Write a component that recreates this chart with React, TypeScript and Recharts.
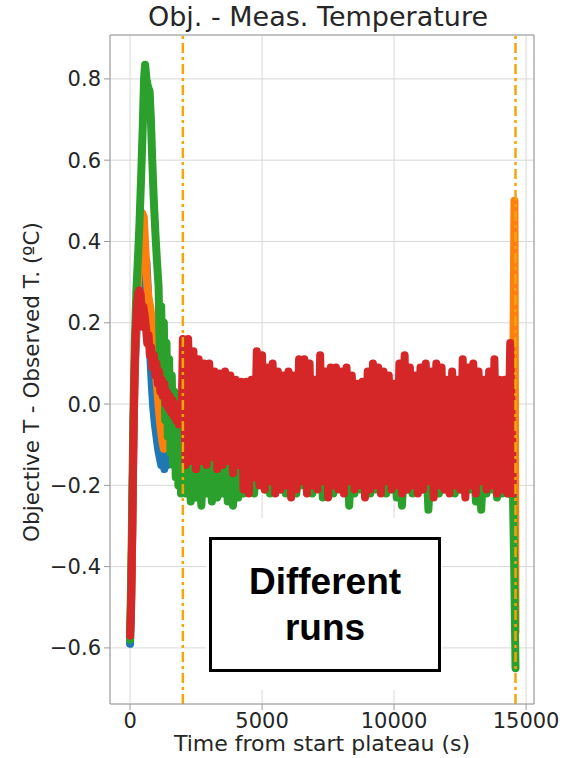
import React from 'react';
import { ComposedChart, Line, XAxis, YAxis, CartesianGrid, ReferenceLine } from 'recharts';

// ---- axis settings ----
const X_DOMAIN: [number, number] = [-760, 15300];
const Y_DOMAIN: [number, number] = [-0.738, 0.908];
const X_TICKS = [0, 5000, 10000, 15000];
const Y_TICKS = [-0.6, -0.4, -0.2, 0.0, 0.2, 0.4, 0.6, 0.8];
const PLATEAU_MARKS = [2000, 14600];

// ---- run 1 (blue) ----
const blueWarmT = [0, 40, 80, 120, 160, 200, 260, 330, 400, 460, 520, 580, 620, 680, 730, 780, 830, 880, 940, 1000, 1060, 1120, 1180, 1240, 1300, 1360, 1420, 1500, 1580, 1660, 1740, 1820, 1900];
const blueWarmV = [-0.59, -0.5, -0.33, -0.12, 0.03, 0.12, 0.2, 0.26, 0.3, 0.33, 0.35, 0.36, 0.35, 0.27, 0.18, 0.1, 0.04, -0.01, -0.05, -0.08, -0.11, -0.13, -0.15, -0.12, -0.16, -0.13, -0.15, -0.11, -0.14, -0.1, -0.13, -0.09, -0.12];
const blueFlat = [-0.12, -0.04, -0.11, -0.05, -0.13, -0.03, -0.12, -0.06, -0.1, -0.04, -0.13, -0.05, -0.11, -0.03, -0.12, -0.06, -0.13, -0.04, -0.1, -0.05, -0.12, -0.03, -0.11, -0.06, -0.13, -0.04, -0.12, -0.05, -0.1, -0.03, -0.12, -0.06];

// ---- run 2 (orange) ----
const orangeWarmT = [0, 40, 80, 120, 160, 200, 260, 330, 400, 460, 520, 580, 640, 700, 760, 830, 900, 970, 1040, 1100, 1160, 1220, 1280, 1340, 1400, 1460, 1520, 1600, 1680, 1760, 1840, 1920];
const orangeWarmV = [-0.56, -0.48, -0.32, -0.12, 0.04, 0.15, 0.25, 0.34, 0.42, 0.47, 0.46, 0.38, 0.3, 0.26, 0.24, 0.2, 0.14, 0.08, 0.03, -0.02, -0.06, -0.09, -0.11, -0.07, -0.1, -0.05, -0.08, -0.03, -0.05, 0.0, -0.03, 0.01];
const orangeFlat = [-0.02, -0.1, -0.03, -0.12, -0.01, -0.11, -0.04, -0.1, -0.02, -0.12, -0.03, -0.09, -0.01, -0.11, -0.04, -0.12, -0.02, -0.1, -0.03, -0.11, -0.01, -0.12, -0.04, -0.09, -0.02, -0.11, -0.03, -0.12, -0.01, -0.1, -0.04, -0.08];
const orangeEndT = [14500, 14560, 14600];
const orangeEndV = [-0.08, 0.5, -0.56];

// ---- run 3 (green) ----
const greenWarmT = [0, 60, 120, 180, 240, 300, 360, 420, 480, 530, 570, 620, 680, 740, 790, 840, 900, 960, 1020, 1080, 1130, 1180, 1230, 1280, 1330, 1380, 1430, 1480, 1530, 1580, 1630, 1680, 1730, 1780, 1830, 1880, 1930, 1970];
const greenWarmV = [-0.58, -0.35, -0.05, 0.15, 0.28, 0.36, 0.45, 0.56, 0.68, 0.8, 0.835, 0.8, 0.78, 0.77, 0.7, 0.6, 0.5, 0.42, 0.35, 0.29, 0.1, 0.24, 0.02, 0.2, -0.04, 0.15, -0.08, 0.11, -0.12, 0.07, -0.15, 0.03, -0.18, 0.0, -0.2, -0.03, -0.22, -0.06];
const greenHigh = [
  -0.1, -0.12, -0.09, -0.11, -0.1, -0.12, -0.09, -0.1, -0.11, -0.1,
  -0.12, -0.1, -0.09, -0.11, -0.1, -0.12, -0.1, -0.09, -0.11, -0.1,
  -0.12, -0.1, -0.11, -0.09, -0.1, -0.12, -0.1, -0.11, -0.09, -0.1,
  -0.11, -0.1, -0.12, -0.09, -0.1, -0.11, -0.1, -0.12, -0.1, -0.09,
  -0.11, -0.1, -0.12, -0.1, -0.09, -0.11, -0.1, -0.12, -0.1, -0.11,
  -0.09, -0.1, -0.12, -0.1, -0.11, -0.09, -0.1, -0.12, -0.1, -0.11,
  -0.1, -0.12, -0.15,
];
const greenLow = [
  -0.22, -0.24, -0.23, -0.25, -0.22, -0.24, -0.23, -0.22, -0.24, -0.25,
  -0.23, -0.22, -0.21, -0.22, -0.2, -0.21, -0.22, -0.2, -0.21, -0.22,
  -0.21, -0.22, -0.2, -0.21, -0.22, -0.2, -0.23, -0.21, -0.22, -0.2,
  -0.21, -0.25, -0.22, -0.21, -0.2, -0.22, -0.21, -0.2, -0.22, -0.21,
  -0.23, -0.25, -0.21, -0.22, -0.2, -0.21, -0.26, -0.22, -0.22, -0.21,
  -0.2, -0.22, -0.21, -0.22, -0.21, -0.24, -0.26, -0.22, -0.21, -0.23,
  -0.22, -0.22, -0.21,
];
const greenEndT = [14550, 14600];
const greenEndV = [-0.4, -0.65];

// ---- run 4 (red) ----
const redWarmT = [0, 30, 60, 90, 120, 150, 180, 210, 250, 300, 350, 400, 440, 470, 500, 550, 600, 650, 700, 750, 800, 850, 900, 950, 1000, 1050, 1100, 1150, 1200, 1250, 1300, 1350, 1400, 1450, 1500, 1550, 1600, 1650, 1700, 1750, 1800, 1850, 1900, 1950];
const redWarmV = [-0.57, -0.52, -0.42, -0.28, -0.12, 0.0, 0.1, 0.17, 0.23, 0.27, 0.28, 0.27, 0.22, 0.19, 0.24, 0.22, 0.19, 0.15, 0.17, 0.12, 0.14, 0.09, 0.12, 0.07, 0.1, 0.05, 0.08, 0.03, 0.06, 0.02, 0.05, 0.0, 0.03, -0.01, 0.02, -0.02, 0.01, -0.03, 0.0, -0.04, -0.01, -0.05, -0.02, -0.05];
const redHigh = [
  0.16, 0.16, 0.13, 0.11, 0.10, 0.10, 0.08, 0.075, 0.08, 0.07,
  0.06, 0.055, 0.055, 0.06, 0.13, 0.12, 0.09, 0.10, 0.08, 0.07,
  0.08, 0.07, 0.11, 0.11, 0.10, 0.06, 0.12, 0.08, 0.09, 0.09,
  0.08, 0.09, 0.07, 0.05, 0.055, 0.08, 0.10, 0.09, 0.08, 0.07,
  0.05, 0.10, 0.12, 0.09, 0.07, 0.09, 0.10, 0.08, 0.10, 0.09,
  0.06, 0.08, 0.06, 0.11, 0.09, 0.10, 0.08, 0.06, 0.08, 0.11,
  0.06, 0.06, 0.15,
];
const redLow = [
  -0.15, -0.14, -0.16, -0.14, -0.15, -0.13, -0.16, -0.15, -0.14, -0.17,
  -0.15, -0.21, -0.22, -0.18, -0.2, -0.21, -0.19, -0.22, -0.21, -0.2,
  -0.23, -0.21, -0.19, -0.22, -0.2, -0.21, -0.19, -0.23, -0.2, -0.21,
  -0.22, -0.19, -0.21, -0.2, -0.23, -0.21, -0.2, -0.22, -0.19, -0.21,
  -0.2, -0.22, -0.21, -0.2, -0.22, -0.21, -0.19, -0.23, -0.2, -0.21,
  -0.22, -0.2, -0.21, -0.23, -0.2, -0.22, -0.19, -0.21, -0.2, -0.22,
  -0.21, -0.22, -0.22,
];

// ---- helpers to assemble series ----
type Pt = { t: number; v: number };
const pairs = (ts: number[], vs: number[]): Pt[] => ts.map((t, i) => ({ t, v: vs[i] }));
const zigzag = (start: number, half: number, highs: number[], lows: number[]): Pt[] => {
  const out: Pt[] = [];
  highs.forEach((h, i) => {
    out.push({ t: start + 2 * half * i, v: h });
    if (i < lows.length) out.push({ t: start + 2 * half * i + half, v: lows[i] });
  });
  return out;
};
const evenly = (start: number, step: number, vs: number[]): Pt[] => vs.map((v, i) => ({ t: start + step * i, v }));

const blueData = [...pairs(blueWarmT, blueWarmV), ...evenly(2000, 400, blueFlat)];
const orangeData = [...pairs(orangeWarmT, orangeWarmV), ...evenly(2000, 400, orangeFlat), ...pairs(orangeEndT, orangeEndV)];
const greenData = [...pairs(greenWarmT, greenWarmV), ...zigzag(2000, 100, greenHigh, greenLow), ...pairs(greenEndT, greenEndV)];
const redData = [...pairs(redWarmT, redWarmV), ...zigzag(2000, 100, redHigh, redLow)];

const SERIES = [
  { key: 'run1', data: blueData, color: '#1f77b4' },
  { key: 'run2', data: orangeData, color: '#ff7f0e' },
  { key: 'run3', data: greenData, color: '#2ca02c' },
  { key: 'run4', data: redData, color: '#d62728' },
];

const FONT = '"DejaVu Sans", Verdana, sans-serif';
const TEXT = '#262626';
const SPINE = '#9a9a9a';

const fmtY = (v: number) => (v < 0 ? '\u2212' + Math.abs(v).toFixed(1) : v.toFixed(1));

export default function App() {
  return (
    <div style={{ position: 'absolute', left: 0, top: 0, width: 575, height: 758, background: '#fff', overflow: 'hidden' }}>
      <ComposedChart width={575} height={758} margin={{ top: 35, right: 41, bottom: 0, left: 0 }}>
        <CartesianGrid stroke="#d8d8d8" strokeWidth={1} />
        <XAxis
          type="number"
          dataKey="t"
          domain={X_DOMAIN}
          allowDataOverflow
          ticks={X_TICKS}
          height={54}
          tickSize={6}
          tickMargin={3}
          axisLine={{ stroke: SPINE }}
          tickLine={{ stroke: SPINE }}
          tick={{ fill: TEXT, fontSize: 21, fontFamily: FONT }}
          interval={0}
        />
        <YAxis
          type="number"
          domain={Y_DOMAIN}
          allowDataOverflow
          ticks={Y_TICKS}
          width={110}
          tickSize={6}
          tickMargin={3}
          axisLine={{ stroke: SPINE }}
          tickLine={{ stroke: SPINE }}
          tick={{ fill: TEXT, fontSize: 21, fontFamily: FONT }}
          tickFormatter={fmtY}
          interval={0}
        />
        {SERIES.map((s) => (
          <Line
            key={s.key}
            data={s.data}
            dataKey="v"
            type="linear"
            stroke={s.color}
            strokeWidth={8}
            strokeLinejoin="round"
            strokeLinecap="round"
            dot={false}
            activeDot={false}
            isAnimationActive={false}
          />
        ))}
        {PLATEAU_MARKS.map((x) => (
          <ReferenceLine key={x} x={x} stroke="#f2a60c" strokeWidth={2.5} strokeDasharray="10 4 3 4" />
        ))}
        <ReferenceLine y={Y_DOMAIN[1]} stroke={SPINE} strokeWidth={1} />
        <ReferenceLine x={X_DOMAIN[1]} stroke={SPINE} strokeWidth={1} />
      </ComposedChart>

      <div style={{ position: 'absolute', left: 0, top: 1, width: 636, textAlign: 'center', fontFamily: FONT, fontSize: 27, color: TEXT, lineHeight: '31px' }}>
        Obj. - Meas. Temperature
      </div>
      <div style={{ position: 'absolute', left: 0, top: 731, width: 644, textAlign: 'center', fontFamily: FONT, fontSize: 22, color: TEXT, lineHeight: '26px' }}>
        Time from start plateau (s)
      </div>
      <div
        style={{
          position: 'absolute',
          left: 32 - 220,
          top: 382 - 13,
          width: 440,
          height: 26,
          lineHeight: '26px',
          textAlign: 'center',
          fontFamily: FONT,
          fontSize: 21.5,
          color: TEXT,
          transform: 'rotate(-90deg)',
          transformOrigin: 'center center',
          whiteSpace: 'nowrap',
        }}
      >
        Objective T - Observed T. (ºC)
      </div>

      <div style={{ position: 'absolute', left: 206, top: 518, width: 236, height: 172, background: '#fff' }} />
      <div
        style={{
          position: 'absolute',
          left: 209,
          top: 537,
          width: 232,
          height: 135,
          boxSizing: 'border-box',
          border: '3px solid #000',
          background: '#fff',
          display: 'flex',
          flexDirection: 'column',
          alignItems: 'center',
          justifyContent: 'center',
          fontFamily: '"Liberation Sans", Arial, sans-serif',
          fontWeight: 700,
          fontSize: 37,
          lineHeight: '46px',
          color: '#000',
        }}
      >
        <div>Different</div>
        <div>runs</div>
      </div>
    </div>
  );
}
